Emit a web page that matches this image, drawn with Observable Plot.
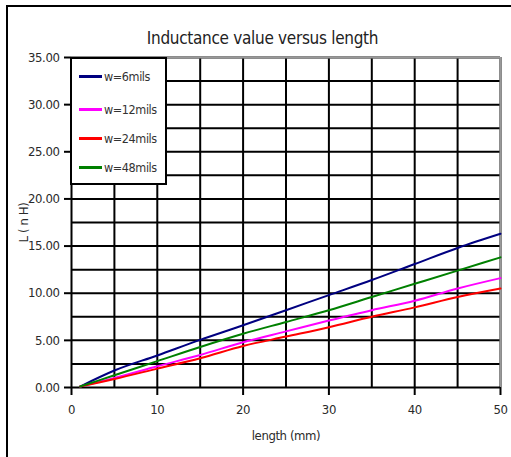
<!DOCTYPE html>
<html>
<head>
<meta charset="utf-8">
<script src="https://cdn.jsdelivr.net/npm/d3@7"></script>
<script src="https://cdn.jsdelivr.net/npm/@observablehq/plot@0.6"></script>
<style>
  html, body { margin: 0; padding: 0; background: #fff; }
  #wrap { position: relative; width: 511px; height: 457px; overflow: hidden;
          font-family: "DejaVu Sans Condensed", "DejaVu Sans", sans-serif; font-stretch: condensed; }
  #border { position: absolute; left: 6px; top: 5px; width: 520px; height: 470px;
            border: 2px solid #000; box-sizing: border-box; pointer-events: none; }
  #title { position: absolute; left: 0; width: 525px; top: 28px; text-align: center;
           font-size: 17px; color: #222; letter-spacing: -0.3px; }
  #legend { position: absolute; left: 70px; top: 57px; width: 97px; height: 128px;
            background: #fff; border: 2px solid #000; box-sizing: border-box; font-size: 12.5px; color: #333; letter-spacing: -0.4px; }
  .item { position: absolute; left: 7px; display: flex; align-items: center; }
  .sw { width: 23px; height: 0; border-top: 3px solid; margin-right: 2px; }
</style>
</head>
<body>
<div id="wrap"><div id="border"></div><div id="title">Inductance value versus length</div></div>
<script>
const lengths = [1, 5, 10, 15, 20, 25, 30, 35, 40, 45, 50];
const seriesNames = ["w=6mils", "w=12mils", "w=24mils", "w=48mils"];
const seriesColors = ["#000080", "#ff00ff", "#ff0000", "#008000"];
const w6  = [0.1, 1.8, 3.4, 5.05, 6.6, 8.2, 9.8, 11.4, 13.1, 14.8, 16.3];
const w12 = [0.1, 1.0, 2.25, 3.45, 4.8, 5.95, 7.1, 8.2, 9.2, 10.5, 11.6];
const w24 = [0.1, 0.9, 2.0, 3.1, 4.4, 5.4, 6.4, 7.5, 8.5, 9.6, 10.5];
const w48 = [0.1, 1.3, 2.8, 4.3, 5.7, 6.95, 8.2, 9.6, 11.0, 12.4, 13.8];
const seriesValues = [w6, w12, w24, w48];
const yTicks = [0, 5, 10, 15, 20, 25, 30, 35];
const xTicks = [0, 10, 20, 30, 40, 50];

const data = [];
seriesNames.forEach((name, i) => lengths.forEach((L, j) => data.push({series: name, length: L, value: seriesValues[i][j]})));

const font = '"DejaVu Sans Condensed", "DejaVu Sans", sans-serif';
const chart = Plot.plot({
  width: 511, height: 457,
  marginLeft: 71, marginRight: 11, marginTop: 57, marginBottom: 70,
  style: {fontFamily: font, fontSize: "13px", color: "#2a2a2a", background: "transparent", letterSpacing: "-0.4px"},
  x: {domain: [0, 50]},
  y: {domain: [0, 35]},
  color: {domain: seriesNames, range: seriesColors},
  marks: [
    Plot.gridX(d3.range(5, 51, 5), {stroke: "#000", strokeOpacity: 1, strokeWidth: 2}),
    Plot.gridY(d3.range(2.5, 35.1, 2.5), {stroke: "#000", strokeOpacity: 1, strokeWidth: 2}),
    Plot.ruleX([50], {stroke: "#999", strokeWidth: 2}),
    Plot.ruleY([35], {stroke: "#999", strokeWidth: 2}),
    Plot.ruleX([0], {stroke: "#000", strokeWidth: 2}),
    Plot.ruleY([0], {stroke: "#000", strokeWidth: 2}),
    Plot.line(data, {x: "length", y: "value", z: "series", stroke: "series", strokeWidth: 2, curve: "monotone-x"}),
    Plot.axisX({ticks: xTicks, tickSize: 8, tickPadding: 9, stroke: "#000", strokeWidth: 2, label: null}),
    Plot.axisX({ticks: [], label: "length (mm)", labelAnchor: "center", labelArrow: "none", labelOffset: 52, dx: 15}),
    Plot.axisY({ticks: yTicks, tickFormat: d3.format(".2f"), tickSize: 7, tickPadding: 5, stroke: "#000", strokeWidth: 2, label: "L ( n H)", labelAnchor: "center", labelArrow: "none", labelOffset: 53})
  ]
});
const wrap = document.getElementById("wrap");
chart.style.position = "absolute";
chart.style.left = "0";
chart.style.top = "0";
wrap.insertBefore(chart, wrap.firstChild);

const legend = document.createElement("div");
legend.id = "legend";
const ys = [10, 43, 72, 101];
seriesNames.forEach((name, i) => {
  const it = document.createElement("div");
  it.className = "item";
  it.style.top = ys[i] + "px";
  it.innerHTML = `<span class="sw" style="border-color:${seriesColors[i]}"></span><span>${name}</span>`;
  legend.appendChild(it);
});
wrap.appendChild(legend);
</script>
</body>
</html>
